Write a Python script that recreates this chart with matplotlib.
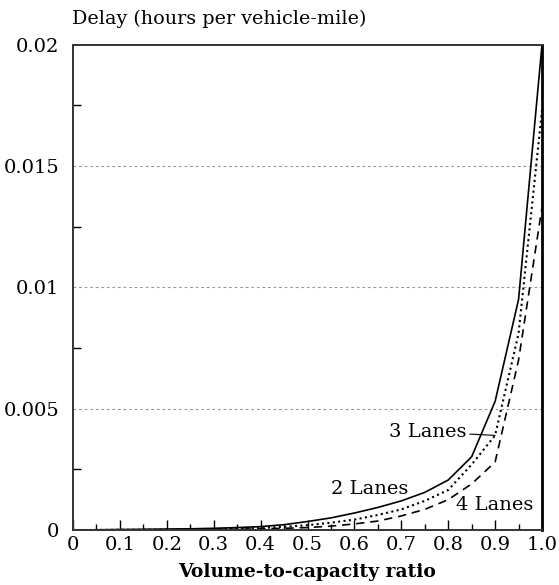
import numpy as np
import matplotlib
matplotlib.use("Agg")
import matplotlib.pyplot as plt
from matplotlib.ticker import MultipleLocator, FixedLocator

# volume-to-capacity ratio, every 0.05
vc_ratio = [0.0, 0.05, 0.1, 0.15, 0.2, 0.25, 0.3, 0.35, 0.4, 0.45, 0.5,
            0.55, 0.6, 0.65, 0.7, 0.75, 0.8, 0.85, 0.9, 0.95, 1.0]

# delay, hours per vehicle-mile
delay_2_lanes = [0.0, 0.00001, 0.00002, 0.00003, 0.00004, 0.00005, 0.00007,
                 0.0001, 0.00014, 0.00022, 0.00035, 0.0005, 0.0007, 0.00093,
                 0.0012, 0.00155, 0.00206, 0.00302, 0.0053, 0.0095, 0.020]
delay_3_lanes = [0.0, 0.0, 0.00001, 0.00001, 0.00002, 0.00003, 0.00004,
                 0.00006, 0.00008, 0.00013, 0.0002, 0.0003, 0.00043, 0.00062,
                 0.00085, 0.0012, 0.00165, 0.0027, 0.0039, 0.0081, 0.0173]
delay_4_lanes = [0.0, 0.0, 0.0, 0.00001, 0.00001, 0.00002, 0.00002,
                 0.00003, 0.00005, 0.00007, 0.0001, 0.00016, 0.00025, 0.00037,
                 0.00058, 0.00085, 0.00125, 0.0019, 0.0028, 0.0070, 0.0133]

x_ticks = [0.0, 0.1, 0.2, 0.3, 0.4, 0.5, 0.6, 0.7, 0.8, 0.9, 1.0]
x_tick_labels = ["0", "0.1", "0.2", "0.3", "0.4", "0.5", "0.6", "0.7", "0.8", "0.9", "1.0"]
y_ticks = [0.0, 0.005, 0.01, 0.015, 0.02]
y_tick_labels = ["0", "0.005", "0.01", "0.015", "0.02"]

plt.rcParams["font.family"] = ["DejaVu Serif"]

fig = plt.figure(figsize=(5.59, 5.85), dpi=100)
ax = fig.add_axes([0.1306, 0.094, 0.839, 0.8296])

ax.plot(vc_ratio, delay_2_lanes, color="black", lw=1.2, linestyle="-")
ax.plot(vc_ratio, delay_3_lanes, color="black", lw=1.5, linestyle=(0, (1, 1.6)))
ax.plot(vc_ratio, delay_4_lanes, color="black", lw=1.2, linestyle=(0, (5, 3.5)))

ax.set_xlim(0, 1.0)
ax.set_ylim(0, 0.02)

# grid lines only at the inner major levels
for gy in y_ticks[1:-1]:
    ax.axhline(gy, color="#999999", lw=0.8, linestyle=(0, (2.5, 2.5)), zorder=0)

ax.set_xticks(x_ticks)
ax.set_xticklabels(x_tick_labels)
ax.xaxis.set_minor_locator(MultipleLocator(0.05))
ax.set_yticks(y_ticks)
ax.set_yticklabels(y_tick_labels)
ax.yaxis.set_minor_locator(FixedLocator([0.0025, 0.0075, 0.0125, 0.0175]))

ax.tick_params(axis="x", which="major", direction="in", length=7, width=1,
               labelsize=14, pad=4)
ax.tick_params(axis="x", which="minor", direction="in", length=4, width=1)
ax.tick_params(axis="y", which="major", direction="in", length=0,
               labelsize=14, pad=10)
ax.tick_params(axis="y", which="minor", direction="in", length=6, width=1)

for side in ["left", "bottom", "top"]:
    ax.spines[side].set_linewidth(1.4)
    ax.spines[side].set_color("#333333")
ax.spines["right"].set_linewidth(2)
ax.spines["right"].set_color("black")

ax.set_xlabel("Volume-to-capacity ratio", fontsize=13.5, fontweight="bold",
              labelpad=7)
fig.text(0.128, 0.968, "Delay (hours per vehicle-mile)", fontsize=13.8,
         ha="left", va="center")

ax.text(0.633, 0.00169, "2 Lanes", fontsize=14, ha="center", va="center")
ax.annotate("3 Lanes", xy=(0.9, 0.0039), xytext=(0.84, 0.00404),
            fontsize=14, ha="right", va="center",
            arrowprops=dict(arrowstyle="-", color="black", lw=0.8,
                            shrinkA=0, shrinkB=0))
ax.text(0.9, 0.00102, "4 Lanes", fontsize=14, ha="center", va="center")

fig.savefig("out.png", dpi=100)
